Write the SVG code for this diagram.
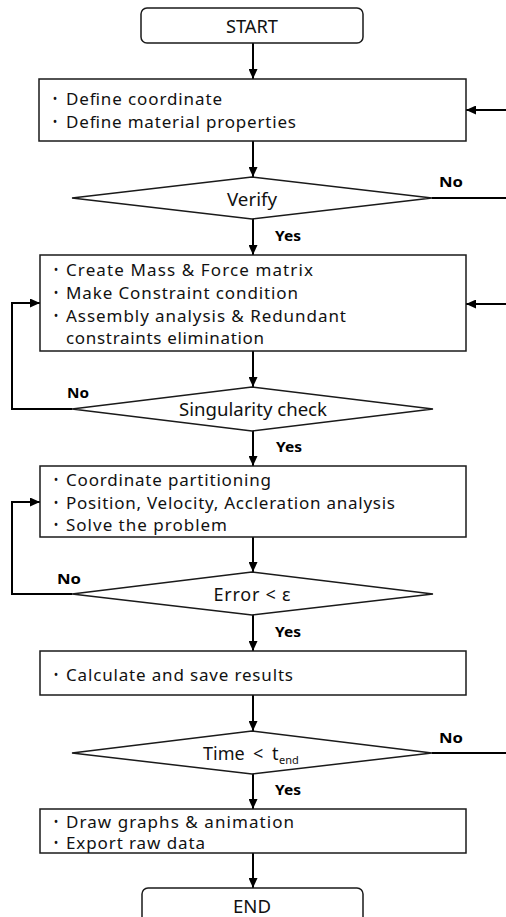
<svg xmlns="http://www.w3.org/2000/svg" width="506" height="917" viewBox="0 0 506 917">
  <defs>
    <marker id="arrow" markerUnits="userSpaceOnUse" markerWidth="10" markerHeight="9" refX="10" refY="4.5" orient="auto">
      <path d="M0,0 L10,4.5 L0,9 z" fill="#000"/>
    </marker>
  </defs>
  <style>
    .shape { fill: #fff; stroke: #1a1a1a; stroke-width: 1.5; }
    .conn { fill: none; stroke: #000; stroke-width: 2; }
    .arr { marker-end: url(#arrow); }
    .lbl { font-family: "Noto Sans", "DejaVu Sans", sans-serif; font-size: 17px; fill: #111; }
    .ctr { font-family: "Noto Sans", "DejaVu Sans", sans-serif; font-size: 18px; fill: #111; text-anchor: middle; }
    .blt { font-family: "Noto Sans", "DejaVu Sans", sans-serif; font-size: 12px; fill: #111; text-anchor: middle; }
    .yn { font-family: "Noto Sans", "DejaVu Sans", sans-serif; font-size: 14px; font-weight: bold; fill: #000; }
    .big { font-size: 18px; }
    .sub { font-size: 11px; }
  </style>

  <!-- connectors -->
  <g id="connectors">
    <path class="conn arr" d="M253,43 V79"/>
    <path class="conn arr" d="M253,141 V177"/>
    <path class="conn arr" d="M253,219 V255"/>
    <path class="conn arr" d="M432,198 H507 V110 H466"/>
    <path class="conn arr" d="M253,351 V387"/>
    <path class="conn arr" d="M253,431 V466"/>
    <path class="conn arr" d="M72,409 H12 V303 H40"/>
    <path class="conn arr" d="M253,537 V572"/>
    <path class="conn arr" d="M253,615 V651"/>
    <path class="conn arr" d="M72,594 H12 V502 H40"/>
    <path class="conn arr" d="M253,695 V731"/>
    <path class="conn arr" d="M253,774 V809"/>
    <path class="conn arr" d="M432,753 H507 V304 H466"/>
    <path class="conn arr" d="M253,853 V888"/>
    <text class="yn" x="439" y="187" textLength="24" lengthAdjust="spacingAndGlyphs">No</text>
    <text class="yn" x="275" y="241" textLength="26" lengthAdjust="spacingAndGlyphs">Yes</text>
    <text class="yn" x="67" y="398" textLength="22" lengthAdjust="spacingAndGlyphs">No</text>
    <text class="yn" x="276" y="452" textLength="26" lengthAdjust="spacingAndGlyphs">Yes</text>
    <text class="yn" x="57" y="584" textLength="24" lengthAdjust="spacingAndGlyphs">No</text>
    <text class="yn" x="275" y="637" textLength="26" lengthAdjust="spacingAndGlyphs">Yes</text>
    <text class="yn" x="439" y="743" textLength="24" lengthAdjust="spacingAndGlyphs">No</text>
    <text class="yn" x="275" y="795" textLength="26" lengthAdjust="spacingAndGlyphs">Yes</text>
  </g>

  <!-- start -->
  <g id="start">
    <rect class="shape" x="141" y="8" width="222" height="35" rx="6"/>
    <text class="ctr" x="252" y="33" textLength="52" lengthAdjust="spacingAndGlyphs">START</text>
  </g>

  <!-- define inputs -->
  <g id="define">
    <rect class="shape" x="39" y="79" width="427" height="62"/>
    <text class="blt" x="55" y="103">•</text>
    <text class="lbl" x="66" y="105" textLength="156" lengthAdjust="spacing">Define coordinate</text>
    <text class="blt" x="55" y="126">•</text>
    <text class="lbl" x="66" y="128" textLength="230" lengthAdjust="spacing">Define material properties</text>
  </g>

  <!-- verify decision -->
  <g id="verify">
    <polygon class="shape" points="252,177 432,198 252,219 72,198"/>
    <text class="ctr" x="252" y="206" textLength="50" lengthAdjust="spacingAndGlyphs">Verify</text>
  </g>

  <!-- matrices and constraints -->
  <g id="assemble">
    <rect class="shape" x="40" y="255" width="426" height="96"/>
    <text class="blt" x="56" y="274">•</text>
    <text class="lbl" x="66" y="276" textLength="247" lengthAdjust="spacing">Create Mass &amp; Force matrix</text>
    <text class="blt" x="56" y="297">•</text>
    <text class="lbl" x="66" y="299" textLength="232" lengthAdjust="spacing">Make Constraint condition</text>
    <text class="blt" x="56" y="320">•</text>
    <text class="lbl" x="66" y="322" textLength="280" lengthAdjust="spacing">Assembly analysis &amp; Redundant</text>
    <text class="lbl" x="66" y="344" textLength="198" lengthAdjust="spacing">constraints elimination</text>
  </g>

  <!-- singularity decision -->
  <g id="singularity">
    <polygon class="shape" points="252,387 433,409 252,431 72,409"/>
    <text class="ctr" x="253" y="416" textLength="148" lengthAdjust="spacingAndGlyphs">Singularity check</text>
  </g>

  <!-- solve step -->
  <g id="solve">
    <rect class="shape" x="40" y="466" width="426" height="71"/>
    <text class="blt" x="56" y="484">•</text>
    <text class="lbl" x="66" y="486" textLength="205" lengthAdjust="spacing">Coordinate partitioning</text>
    <text class="blt" x="56" y="507">•</text>
    <text class="lbl" x="66" y="509" textLength="329" lengthAdjust="spacing">Position, Velocity, Accleration analysis</text>
    <text class="blt" x="56" y="529">•</text>
    <text class="lbl" x="66" y="531" textLength="161" lengthAdjust="spacing">Solve the problem</text>
  </g>

  <!-- error decision -->
  <g id="error">
    <polygon class="shape" points="252,572 433,594 252,615 72,594"/>
    <text class="ctr" x="252" y="601" textLength="77" lengthAdjust="spacing">Error &lt; ε</text>
  </g>

  <!-- save results -->
  <g id="save">
    <rect class="shape" x="40" y="651" width="426" height="44"/>
    <text class="blt" x="56" y="679">•</text>
    <text class="lbl" x="66" y="681" textLength="227" lengthAdjust="spacing">Calculate and save results</text>
  </g>

  <!-- time decision: Time < t_end -->
  <g id="time">
    <polygon class="shape" points="252,731 432,753 252,774 72,753"/>
    <text class="lbl big" y="760"><tspan x="203">Time</tspan><tspan x="253">&lt;</tspan><tspan x="272">t</tspan><tspan class="sub" x="279" y="764">end</tspan></text>
  </g>

  <!-- output -->
  <g id="output">
    <rect class="shape" x="40" y="809" width="426" height="44"/>
    <text class="blt" x="56" y="826">•</text>
    <text class="lbl" x="66" y="828" textLength="228" lengthAdjust="spacing">Draw graphs &amp; animation</text>
    <text class="blt" x="56" y="847">•</text>
    <text class="lbl" x="66" y="849" textLength="139" lengthAdjust="spacing">Export raw data</text>
  </g>

  <!-- end -->
  <g id="end">
    <rect class="shape" x="142" y="888" width="221" height="40" rx="6"/>
    <text class="ctr" x="252" y="913" textLength="38" lengthAdjust="spacingAndGlyphs">END</text>
  </g>
</svg>
